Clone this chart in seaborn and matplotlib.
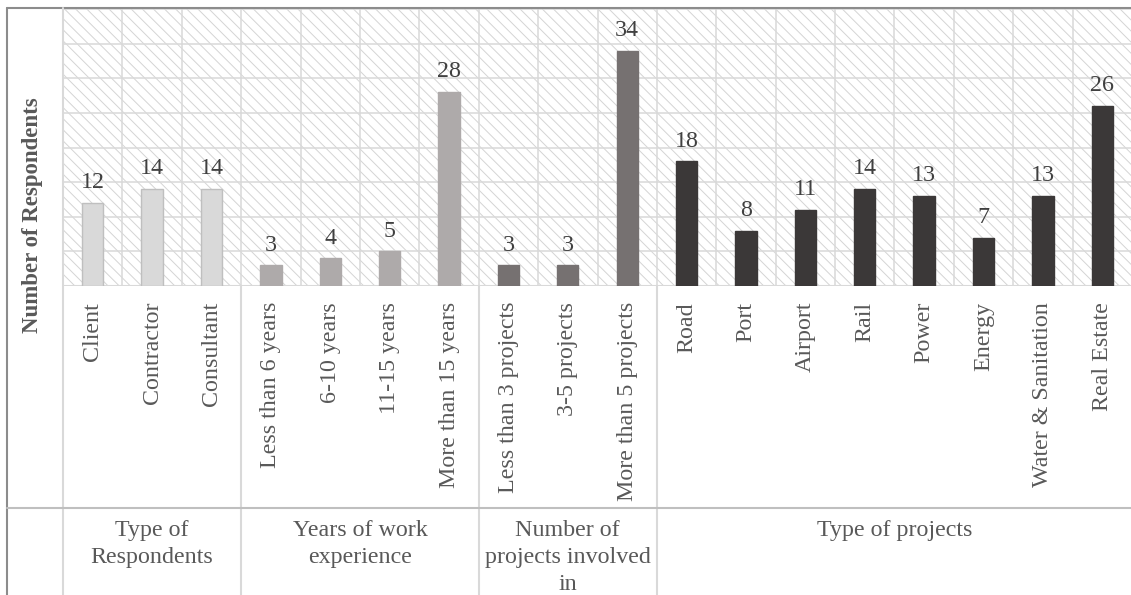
import pandas as pd
import matplotlib.pyplot as plt
import matplotlib.transforms as mtransforms
from matplotlib.patches import Rectangle
from matplotlib.lines import Line2D
import seaborn as sns

# data
categories = ["Client", "Contractor", "Consultant",
              "Less than 6 years", "6-10 years", "11-15 years", "More than 15 years",
              "Less than 3 projects", "3-5 projects", "More than 5 projects",
              "Road", "Port", "Airport", "Rail", "Power", "Energy",
              "Water & Sanitation", "Real Estate"]
values = [12, 14, 14, 3, 4, 5, 28, 3, 3, 34, 18, 8, 11, 14, 13, 7, 13, 26]
groups = ["Type of\nRespondents"] * 3 + ["Years of work\nexperience"] * 4 + \
         ["Number of\nprojects involved\nin"] * 3 + ["Type of projects"] * 8
group_names = ["Type of\nRespondents", "Years of work\nexperience",
               "Number of\nprojects involved\nin", "Type of projects"]
group_colors = ["#d9d9d9", "#aeaaaa", "#767171", "#3b3838"]
edge_colors = ["#bfbfbf", "#aeaaaa", "#767171", "#3b3838"]

df = pd.DataFrame({"category": categories, "value": values, "group": groups})

sns.set_theme(style="white")
plt.rcParams["font.family"] = ["Liberation Serif", "DejaVu Serif"]
plt.rcParams["hatch.linewidth"] = 0.7

FS = 17.3
W, H = 1131, 595
fig = plt.figure(figsize=(W / 100, H / 100), dpi=100)
ax = fig.add_axes([63 / W, 1 - 286 / H, (1132 - 63) / W, (286 - 9) / H])

sns.barplot(data=df, x="category", y="value", hue="group", order=categories,
            hue_order=group_names, palette=group_colors, dodge=False,
            width=0.36, legend=False, ax=ax, saturation=1)

# bar edges + value labels
for cont, ec in zip(ax.containers, edge_colors):
    for bar in cont:
        bar.set_edgecolor(ec)
        bar.set_linewidth(1.0)
    ax.bar_label(cont, padding=7, fontsize=FS, color="#404040")

ax.set_xlim(-0.5, len(categories) - 0.5)
ax.set_ylim(0, 40)

# hatched plot background
ax.add_patch(Rectangle((-0.5, 0), len(categories), 40, facecolor="white",
                       edgecolor="#d4d4d4", hatch="\\\\\\", linewidth=0, zorder=0.1))

ax.set_yticks(range(0, 41, 5))
ax.tick_params(axis="y", left=False, labelleft=False)
ax.set_xticks(range(len(categories)))
ax.set_xticks([i + 0.5 for i in range(-1, len(categories))], minor=True)
ax.set_xticklabels(categories, rotation=90, va="top", ha="center",
                   fontsize=FS, color="#595959")
ax.tick_params(axis="x", which="both", length=0, pad=11.5)
ax.set_axisbelow(True)
ax.grid(axis="y", which="major", color="#d9d9d9", linewidth=1.1)
ax.grid(axis="x", which="minor", color="#d9d9d9", linewidth=1.1)
ax.grid(axis="x", which="major", visible=False)
ax.set_xlabel("")
ax.set_ylabel("")
for s in ax.spines.values():
    s.set_visible(False)

# y axis title
fig.text(33 / W, 1 - 215 / H, "Number of Respondents", rotation=90,
         ha="center", va="center", fontsize=16.5, fontweight="bold", color="#595959")

# table-like lines under the axis
px = lambda x: x / W
py = lambda y: 1 - y / H
grey = "#d9d9d9"
fig.add_artist(Line2D([px(6.5), px(6.5)], [py(8), 0], color="#8c8c8c", lw=1.5))
fig.add_artist(Line2D([px(6.5), 1], [py(8), py(8)], color="#8c8c8c", lw=1.5))
fig.add_artist(Line2D([px(63), px(63)], [py(8), 0], color=grey, lw=1.5))
fig.add_artist(Line2D([px(6.5), 1], [py(507.5), py(507.5)], color="#bfbfbf", lw=1.5))
ax.axhline(0, color=grey, lw=1.5, zorder=0.6)

trans = mtransforms.blended_transform_factory(ax.transData, fig.transFigure)
bounds = [-0.5, 2.5, 6.5, 9.5, 17.5]
for b in bounds[1:-1]:
    ax.add_line(Line2D([b, b], [0, py(286)], transform=trans, color=grey,
                       lw=1.5, clip_on=False))
for name, lo, hi in zip(group_names, bounds[:-1], bounds[1:]):
    ax.text((lo + hi) / 2, py(520), name, transform=trans, ha="center", va="top",
            fontsize=FS, color="#595959", linespacing=1.38, clip_on=False)

fig.savefig("out.png", dpi=100)
